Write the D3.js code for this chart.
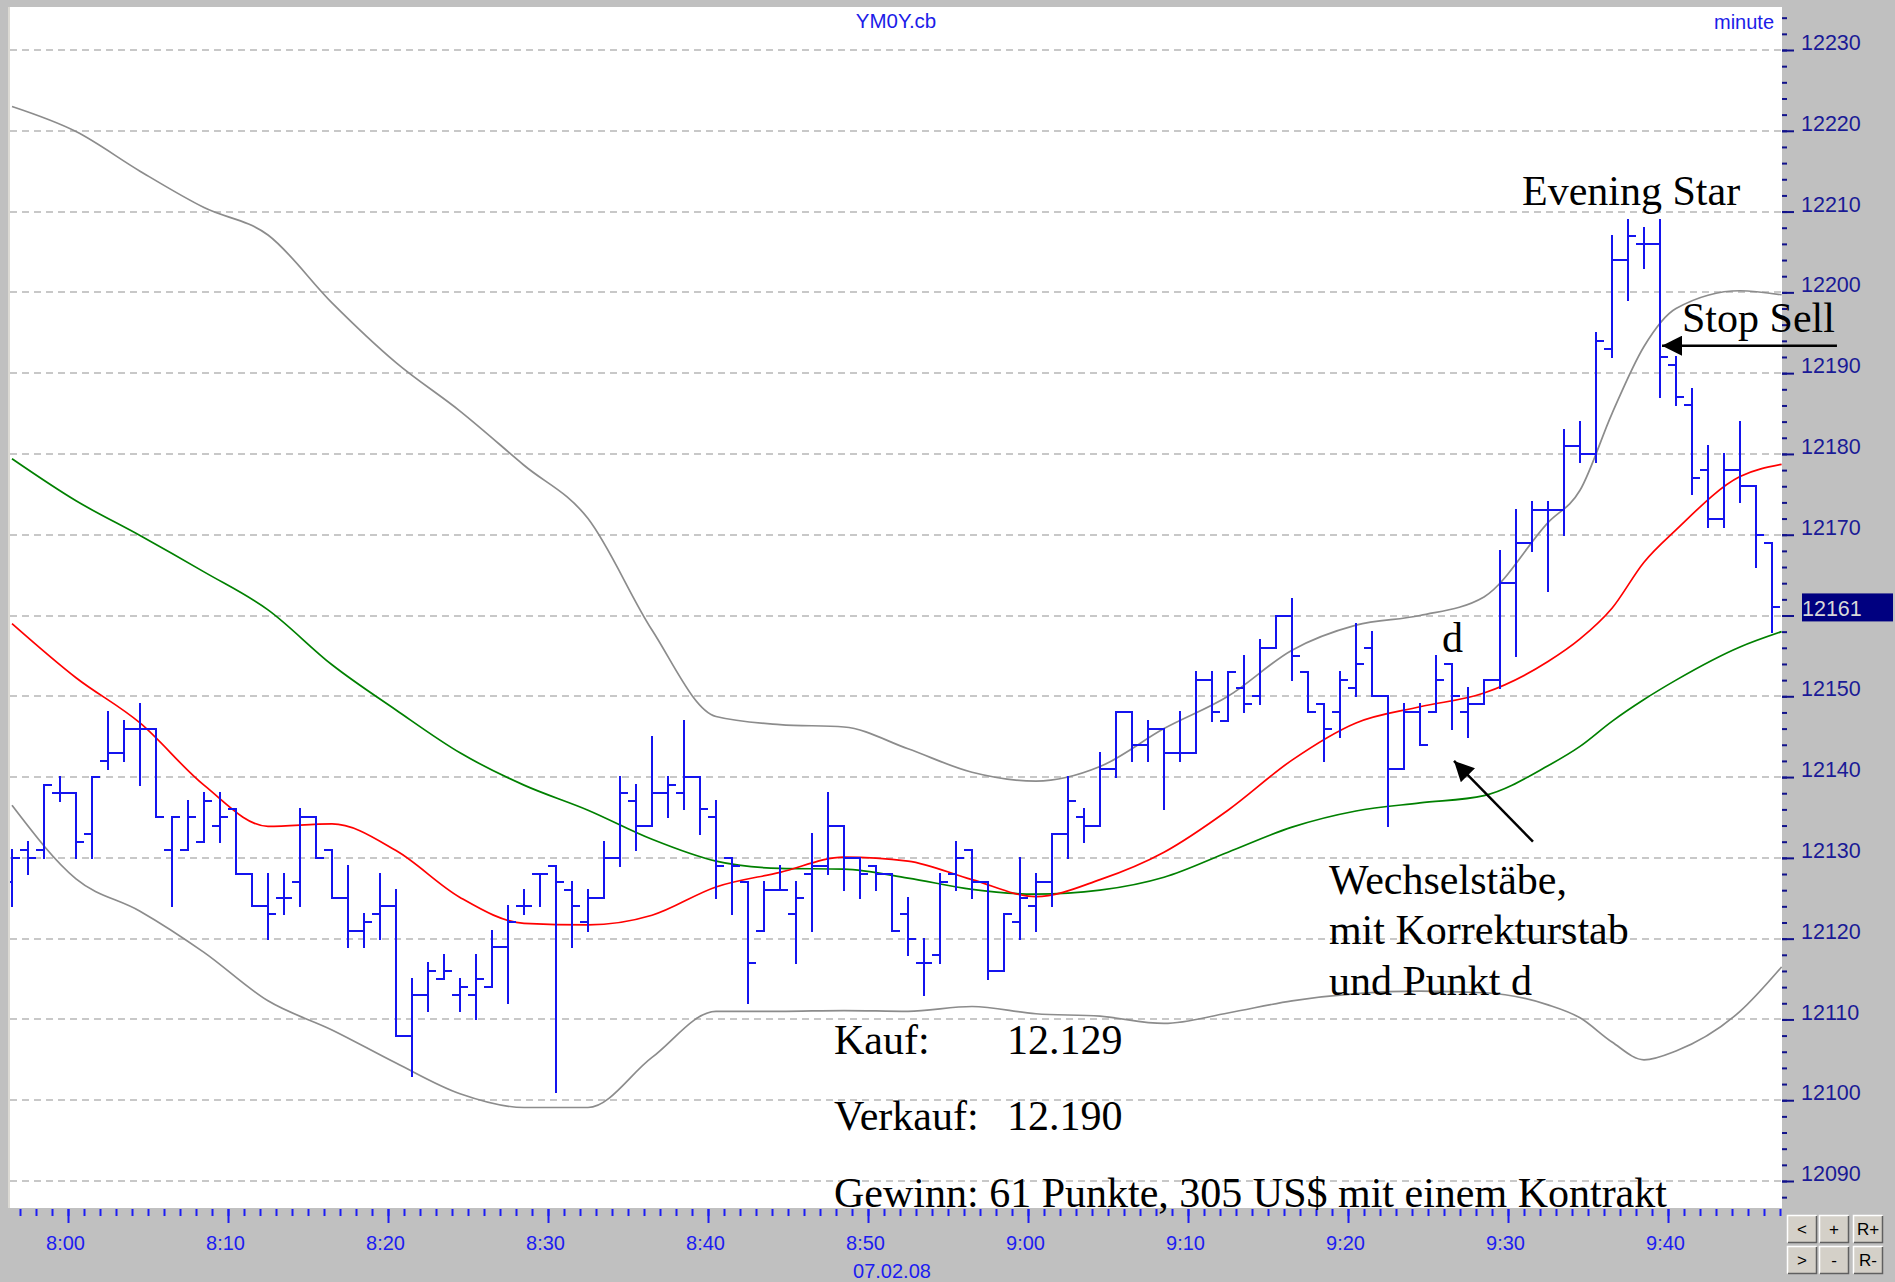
<!DOCTYPE html>
<html>
<head>
<meta charset="utf-8">
<script src="https://cdn.jsdelivr.net/npm/d3@7"></script>
<style>
body { margin: 0; background: #c0c0c0; }
svg { display: block; }
</style>
</head>
<body>
<svg id="chart" width="1895" height="1282"></svg>
<script>

// first bar is 7:56, one bar per minute
var firstMinute = -4;

var opens = [12127,12131,12131,12138,12138,12133,12142,12143,12146,12146,
12131,12131,12132,12134,12136,12128,12124,12125,12127,12135,
12131,12125,12121,12123,12124,12108,12113,12115,12113,12113,
12114,12119,12124,12128,12129,12126,12122,12125,12130,12137,
12134,12138,12138,12140,12135,12130,12127,12121,12126,12123,
12128,12129,12134,12130,12129,12128,12123,12117,12118,12128,
12131,12127,12116,12122,12124,12127,12133,12135,12134,12141,
12148,12144,12146,12143,12143,12152,12147,12151,12150,12156,
12160,12153,12149,12148,12151,12156,12150,12141,12148,12148,
12154,12148,12149,12152,12164,12169,12173,12173,12181,12180,
12193,12204,12206,12206,12191,12186,12178,12172,12178,12176,
12169];

var highs = [12131,12132,12139,12140,12138,12140,12148,12147,12149,12146,
12135,12137,12138,12138,12136,12128,12128,12128,12136,12135,
12131,12129,12123,12128,12126,12115,12117,12118,12115,12118,
12121,12124,12126,12128,12129,12127,12126,12132,12140,12139,
12145,12140,12147,12140,12137,12130,12127,12127,12129,12127,
12133,12138,12134,12130,12129,12128,12125,12120,12128,12132,
12131,12127,12123,12130,12128,12133,12140,12136,12143,12148,
12148,12147,12146,12148,12153,12153,12153,12155,12157,12160,
12162,12153,12149,12153,12159,12158,12150,12149,12149,12155,
12154,12151,12152,12168,12173,12174,12174,12183,12184,12195,
12207,12209,12208,12209,12192,12188,12181,12180,12184,12176,
12169];

var lows = [12124,12128,12130,12137,12130,12130,12141,12142,12139,12135,
12124,12131,12132,12132,12128,12124,12120,12123,12124,12130,
12125,12119,12119,12120,12108,12103,12111,12115,12111,12110,
12114,12112,12123,12124,12101,12119,12121,12125,12129,12131,
12134,12135,12136,12133,12125,12123,12112,12121,12126,12117,
12121,12128,12126,12125,12126,12121,12118,12113,12117,12126,
12125,12115,12116,12120,12121,12124,12130,12132,12134,12140,
12142,12142,12136,12142,12143,12147,12147,12148,12149,12156,
12152,12148,12142,12145,12150,12150,12134,12141,12144,12148,
12146,12145,12149,12151,12155,12168,12163,12170,12179,12179,
12192,12199,12203,12187,12186,12175,12171,12171,12174,12166,
12158];

var closes = [12130,12130,12139,12138,12132,12140,12143,12146,12146,12135,
12135,12135,12137,12135,12128,12124,12123,12125,12135,12130,
12125,12121,12122,12124,12108,12113,12116,12116,12114,12115,
12119,12122,12124,12128,12127,12124,12125,12130,12138,12134,
12138,12139,12140,12136,12129,12129,12117,12126,12126,12125,
12129,12134,12130,12128,12128,12121,12120,12117,12127,12130,
12127,12116,12123,12125,12127,12133,12137,12134,12141,12148,
12144,12146,12143,12143,12152,12148,12153,12149,12156,12160,
12155,12148,12146,12152,12154,12150,12141,12148,12144,12152,
12150,12149,12152,12164,12169,12173,12173,12181,12180,12194,
12204,12207,12206,12192,12187,12177,12172,12178,12176,12170,
12161];

// indicator lines, read at these bar indexes
var maIdx = [0,4,8,12,16,20,24,28,32,36,40,44,48,52,56,60,64,68,72,76,80,84,88,92,96,98,100,102,104,108,110.6];

var upperBand = [12223.0,12219.9,12215.0,12210.5,12207.1,12198.7,12191.3,12185.3,12178.6,12172,
12158.2,12147.5,12146.5,12146.2,12143.5,12140.6,12139.5,12141.3,12146,12150,
12155.7,12158.8,12160,12162.3,12171.5,12175.5,12185,12193.3,12198,12200.2,12199.7];

var lowerBand = [12136.5,12127.4,12123.4,12118.3,12112.3,12108.7,12104.6,12100.8,12099.1,12099.1,
12105.3,12111,12111,12111.1,12111,12111.6,12110.7,12110.4,12109.5,12110.8,
12112.3,12113.2,12113.5,12113.3,12111.8,12110.2,12107.2,12105,12106.1,12111,12116.5];

var redMA = [12159,12152.3,12146.7,12139,12133.9,12134.2,12130.9,12125.1,12121.9,12121.7,
12122.9,12126.4,12128.2,12130.1,12129.6,12127.3,12125.2,12127.3,12130.7,12135.9,
12142.1,12146.7,12148.7,12150.4,12154.3,12157.1,12160.9,12166.6,12170.6,12177.2,12178.7];

var greenMA = [12179.4,12174.2,12169.9,12165.4,12160.7,12153.9,12148.3,12143,12139,12135.9,
12132.3,12129.6,12128.7,12128.6,12127.5,12126.1,12125.5,12126,12127.6,12130.7,
12133.8,12135.8,12136.8,12137.7,12141.4,12143.8,12146.9,12149.6,12152,12156.1,12158];

var priceTicks = d3.range(12090, 12231, 10);
var timeLabels = ["8:00","8:10","8:20","8:30","8:40","8:50","9:00","9:10","9:20","9:30","9:40"];
var dateLabel = "07.02.08";
var title = "YM0Y.cb";
var period = "minute";

// annotations: bar index / price
var notes = [
    {text: "Evening Star", i: 94.375, v: 12210.8},
    {text: "Stop Sell", i: 104.375, v: 12195.1},
    {text: "d", i: 89.375, v: 12155.5},
    {text: "Wechselstäbe,", i: 82.31, v: 12125.5},
    {text: "mit Korrekturstab", i: 82.31, v: 12119.3},
    {text: "und Punkt d", i: 82.31, v: 12113.0},
    {text: "Kauf:", i: 51.375, v: 12105.7},
    {text: "12.129", i: 62.19, v: 12105.7},
    {text: "Verkauf:", i: 51.375, v: 12096.3},
    {text: "12.190", i: 62.19, v: 12096.3},
    {text: "Gewinn: 61 Punkte, 305 US$ mit einem Kontrakt", i: 51.375, v: 12086.8}
];
var arrows = [
    {i1: 114.06, v1: 12193.4, i2: 103.125, v2: 12193.4},
    {i1: 95.06, v1: 12132.0, i2: 90.125, v2: 12142.0}
];
var buttons = ["<", "+", "R+", ">", "-", "R-"];

var plot = {left: 10, right: 1782, top: 7, bottom: 1208};

var svg = d3.select("#chart");

// minutes after 8:00
var x = d3.scaleLinear().domain([0, 100]).range([68, 1668]);
var y = d3.scaleLinear().domain([12090, 12230]).range([1181, 50]);

function barX(i) {
    return x(firstMinute + i + 0.5);
}

var last = closes[closes.length - 1];

svg.append("rect")
    .attr("width", 1895).attr("height", 1282)
    .attr("fill", "#c0c0c0");

svg.append("rect")
    .attr("x", plot.left).attr("y", plot.top)
    .attr("width", plot.right - plot.left)
    .attr("height", plot.bottom - plot.top)
    .attr("fill", "#ffffff");

svg.append("line")
    .attr("x1", plot.left - 1).attr("x2", plot.left - 1)
    .attr("y1", plot.top).attr("y2", plot.bottom)
    .attr("stroke", "#dcdad4").attr("stroke-width", 2);

svg.append("clipPath").attr("id", "plotclip")
    .append("rect")
    .attr("x", plot.left).attr("y", plot.top)
    .attr("width", plot.right - plot.left)
    .attr("height", plot.bottom - plot.top);

// grid
svg.append("g")
    .selectAll("line")
    .data(priceTicks)
    .enter()
    .append("line")
        .attr("x1", plot.left)
        .attr("x2", plot.right)
        .attr("y1", function(d) { return Math.round(y(d)); })
        .attr("y2", function(d) { return Math.round(y(d)); })
        .attr("stroke", "#c8c8c8")
        .attr("stroke-width", 2)
        .attr("stroke-dasharray", "7,5");

// indicator lines
var lineGen = d3.line()
    .x(function(d) { return barX(d.i); })
    .y(function(d) { return y(d.v); })
    .curve(d3.curveMonotoneX);

var series = [
    {vals: upperBand, color: "#8c8c8c"},
    {vals: lowerBand, color: "#8c8c8c"},
    {vals: greenMA, color: "#008000"},
    {vals: redMA, color: "#ff0000"}
];

var lines = svg.append("g").attr("clip-path", "url(#plotclip)");
series.forEach(function(s) {
    var pts = maIdx.map(function(idx, k) { return {i: idx, v: s.vals[k]}; });
    lines.append("path")
        .datum(pts)
        .attr("d", lineGen)
        .attr("fill", "none")
        .attr("stroke", s.color)
        .attr("stroke-width", 1.7);
});

// OHLC bars
var bars = opens.map(function(o, i) {
    return {i: i, o: o, h: highs[i], l: lows[i], c: closes[i]};
});

var barG = svg.append("g")
    .attr("stroke", "#1414ee")
    .attr("stroke-width", 2)
    .attr("shape-rendering", "crispEdges")
    .attr("clip-path", "url(#plotclip)");

var barSel = barG.selectAll("g.bar")
    .data(bars)
    .enter()
    .append("g").attr("class", "bar");

barSel.append("line")
    .attr("x1", function(d) { return barX(d.i); })
    .attr("x2", function(d) { return barX(d.i); })
    .attr("y1", function(d) { return y(d.h) - 1; })
    .attr("y2", function(d) { return y(d.l) + 1; });

barSel.append("line")
    .attr("x1", function(d) { return barX(d.i) - 8; })
    .attr("x2", function(d) { return barX(d.i); })
    .attr("y1", function(d) { return y(d.o); })
    .attr("y2", function(d) { return y(d.o); });

barSel.append("line")
    .attr("x1", function(d) { return barX(d.i); })
    .attr("x2", function(d) { return barX(d.i) + 8; })
    .attr("y1", function(d) { return y(d.c); })
    .attr("y2", function(d) { return y(d.c); });

// right axis
var minorY = d3.axisRight(y).tickValues(d3.range(12088, 12235, 2)).tickSize(5).tickFormat("");
svg.append("g")
    .attr("transform", "translate(" + plot.right + ",0)")
    .call(minorY)
    .call(function(g) { g.select(".domain").remove(); })
    .selectAll("line").attr("stroke", "#10108a").attr("stroke-width", 2);

// the label next to the last price is covered by the price box, so leave it out
var majorY = d3.axisRight(y)
    .tickValues(priceTicks)
    .tickSize(12)
    .tickFormat(function(d) { return Math.abs(d - last) < 5 ? "" : d3.format("d")(d); });
var yAx = svg.append("g")
    .attr("transform", "translate(" + plot.right + ",0)")
    .call(majorY)
    .call(function(g) { g.select(".domain").remove(); });
yAx.selectAll("line").attr("stroke", "#10108a").attr("stroke-width", 2);
yAx.selectAll("text")
    .attr("x", 19)
    .attr("dy", "-0.02em")
    .attr("fill", "#1a1a96")
    .attr("font-family", "Liberation Sans, Arial, sans-serif")
    .attr("font-size", 21.5);

// last price box
svg.append("rect")
    .attr("x", 1802).attr("y", y(last) - 14)
    .attr("width", 91).attr("height", 28)
    .attr("fill", "#000080");
svg.append("text")
    .attr("x", 1802).attr("y", y(last) + 9)
    .attr("fill", "#d8d8d8")
    .attr("font-family", "Liberation Sans, Arial, sans-serif")
    .attr("font-size", 21.5)
    .text(last);

// bottom axis
var minorX = d3.axisBottom(x).tickValues(d3.range(-3, 108)).tickSize(7).tickFormat("");
svg.append("g")
    .attr("transform", "translate(0," + (plot.bottom + 1) + ")")
    .call(minorX)
    .call(function(g) { g.select(".domain").remove(); })
    .selectAll("line").attr("stroke", "#1c1cf4").attr("stroke-width", 2);

var majorX = d3.axisBottom(x)
    .tickValues(d3.range(0, 101, 10))
    .tickSize(14)
    .tickFormat(function(d, k) { return timeLabels[k]; });
var xAx = svg.append("g")
    .attr("transform", "translate(0," + (plot.bottom + 1) + ")")
    .call(majorX)
    .call(function(g) { g.select(".domain").remove(); });
xAx.selectAll("line").attr("stroke", "#1c1cf4").attr("stroke-width", 2);
xAx.selectAll("text")
    .attr("y", 41)
    .attr("dy", 0)
    .attr("dx", -3)
    .attr("fill", "#1c1cf0")
    .attr("font-family", "Liberation Sans, Arial, sans-serif")
    .attr("font-size", 20);

svg.append("text")
    .attr("x", x(51.5)).attr("y", 1278)
    .attr("text-anchor", "middle")
    .attr("fill", "#1c1cf0")
    .attr("font-family", "Liberation Sans, Arial, sans-serif")
    .attr("font-size", 20)
    .text(dateLabel);

svg.append("text")
    .attr("x", 896).attr("y", 28)
    .attr("text-anchor", "middle")
    .attr("fill", "#1c1ce8")
    .attr("font-family", "Liberation Sans, Arial, sans-serif")
    .attr("font-size", 20.5)
    .text(title);

svg.append("text")
    .attr("x", 1774).attr("y", 29)
    .attr("text-anchor", "end")
    .attr("fill", "#1c1ce8")
    .attr("font-family", "Liberation Sans, Arial, sans-serif")
    .attr("font-size", 20)
    .text(period);

// annotations
svg.append("g")
    .selectAll("text")
    .data(notes)
    .enter()
    .append("text")
        .attr("x", function(d) { return barX(d.i); })
        .attr("y", function(d) { return y(d.v); })
        .attr("font-family", "Liberation Serif, Times New Roman, serif")
        .attr("font-size", 42)
        .attr("fill", "#000")
        .text(function(d) { return d.text; });

svg.append("defs").append("marker")
    .attr("id", "head")
    .attr("viewBox", "0 0 10 10")
    .attr("refX", 10).attr("refY", 5)
    .attr("markerWidth", 8).attr("markerHeight", 8)
    .attr("markerUnits", "strokeWidth")
    .attr("orient", "auto")
    .append("path")
    .attr("d", "M0,0 L10,5 L0,10 z")
    .attr("fill", "#000");

svg.append("g")
    .selectAll("line")
    .data(arrows)
    .enter()
    .append("line")
        .attr("x1", function(d) { return barX(d.i1); })
        .attr("y1", function(d) { return y(d.v1); })
        .attr("x2", function(d) { return barX(d.i2); })
        .attr("y2", function(d) { return y(d.v2); })
        .attr("stroke", "#000")
        .attr("stroke-width", 2.5)
        .attr("marker-end", "url(#head)");

// scroll / zoom buttons bottom right
var btn = svg.append("g")
    .selectAll("g")
    .data(buttons)
    .enter()
    .append("g")
        .attr("transform", function(d, k) {
            return "translate(" + [1787, 1819, 1853][k % 3] + "," + (k < 3 ? 1215 : 1246) + ")";
        });

btn.append("rect")
    .attr("width", 30).attr("height", 28)
    .attr("fill", "#d4d0c8");
btn.append("path")
    .attr("d", "M0.5,27.5 V0.5 H29.5")
    .attr("fill", "none").attr("stroke", "#ffffff").attr("stroke-width", 1.5);
btn.append("path")
    .attr("d", "M1,27.5 H29.5 V1")
    .attr("fill", "none").attr("stroke", "#606060").attr("stroke-width", 1.5);
btn.append("text")
    .attr("x", 15).attr("y", 20)
    .attr("text-anchor", "middle")
    .attr("font-family", "Liberation Sans, Arial, sans-serif")
    .attr("font-size", 17)
    .attr("fill", "#000")
    .text(function(d) { return d; });

</script>
</body>
</html>
